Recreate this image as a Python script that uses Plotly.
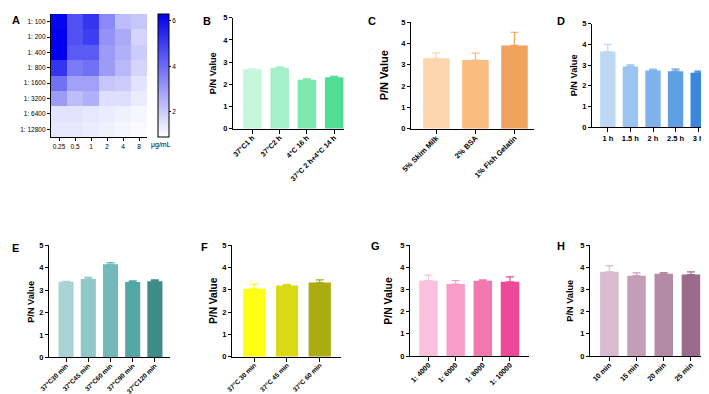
import plotly.graph_objects as go

W, H = 709, 394
FONT = "Liberation Sans, Arial, sans-serif"

# ---------------- data ----------------
heat_x = ["0.25", "0.5", "1", "2", "4", "8"]
heat_y = ["1: 100", "1: 200", "1: 400", "1: 800", "1: 1600", "1: 3200", "1: 6400", "1: 12800"]
heat_z = [
    [6.2, 4.6, 5.2, 3.4, 2.3, 2.1],
    [6.3, 4.6, 5.0, 3.2, 2.7, 1.8],
    [6.3, 4.4, 4.4, 3.0, 2.6, 2.0],
    [5.2, 3.7, 3.9, 3.0, 2.4, 1.8],
    [3.9, 2.9, 2.9, 2.1, 2.0, 1.5],
    [3.0, 2.3, 2.6, 1.6, 1.6, 1.3],
    [1.5, 1.5, 1.4, 1.3, 1.2, 1.1],
    [1.4, 1.4, 1.3, 1.2, 1.1, 1.0],
]

b_cats = ["37°C1 h", "37°C2 h", "4°C 16 h", "37°C 2 h+4°C 14 h"]
b_vals = [2.68, 2.75, 2.20, 2.32]
b_err = [0.02, 0.04, 0.04, 0.04]

c_cats = ["5% Skim Milk", "2% BSA", "1% Fish Gelatin"]
c_vals = [3.30, 3.22, 3.90]
c_err = [0.25, 0.32, 0.62]

d_cats = ["1 h", "1.5 h", "2 h", "2.5 h", "3 h"]
d_vals = [3.65, 2.93, 2.73, 2.70, 2.62]
d_err = [0.35, 0.08, 0.07, 0.10, 0.08]

e_cats = ["37°C30 min", "37°C45 min", "37°C60 min", "37°C90 min", "37°C120 min"]
e_vals = [3.37, 3.50, 4.15, 3.36, 3.40]
e_err = [0.02, 0.07, 0.08, 0.05, 0.06]

f_cats = ["37°C 30 min", "37°C 45 min", "37°C 60 min"]
f_vals = [3.05, 3.20, 3.33]
f_err = [0.20, 0.04, 0.12]

g_cats = ["1: 4000", "1: 6000", "1: 8000", "1: 10000"]
g_vals = [3.40, 3.25, 3.40, 3.35]
g_err = [0.25, 0.15, 0.04, 0.22]

h_cats = ["10 min", "15 min", "20 min", "25 min"]
h_vals = [3.80, 3.63, 3.72, 3.68]
h_err = [0.28, 0.12, 0.05, 0.12]

# ---------------- styles ----------------
b_cols = ["#C6F6DC", "#A6F0C9", "#7DE8B0", "#52DD96"]
c_cols = ["#FDD5AE", "#F9BC81", "#F0A35C"]
d_cols = ["#BDD7F4", "#9CC4F0", "#7EB2EB", "#5F9FE5", "#3A88DE"]
e_cols = ["#A9D4D4", "#90C7C7", "#74B9B9", "#55A7A6", "#3F8B88"]
f_cols = ["#FFFF14", "#D9D916", "#ABAB12"]
g_cols = ["#FAC0DC", "#F59FC8", "#F177AF", "#EE4999"]
h_cols = ["#D9BBD0", "#C59DB6", "#B28AA5", "#9C6B8C"]


def px_x(p):
    return p / W


def px_y(p):
    return 1 - p / H


fig = go.Figure()

# ---------------- heatmap A ----------------
fig.add_trace(go.Heatmap(
    x=heat_x, y=heat_y, z=heat_z, xaxis="x", yaxis="y",
    colorscale=[[0, "#FFFFFF"], [1, "#0000EE"]], zmin=0.9, zmax=6.3,
    xgap=0, ygap=0,
    colorbar=dict(
        x=px_x(150), xanchor="left", xpad=0, ypad=0,
        y=px_y(6), yanchor="top", len=(129 - 6) / H, lenmode="fraction",
        thickness=11, thicknessmode="pixels",
        outlinewidth=1, outlinecolor="black",
        tickvals=[2, 4, 6], ticks="outside", ticklen=2, tickcolor="black",
        tickfont=dict(size=6.5, family=FONT, color="black"),
    ),
))


def axis_common(size, bold=True):
    return dict(showline=True, linecolor="black", linewidth=1.3, ticks="outside",
                tickcolor="black", tickwidth=1.2, showgrid=False, zeroline=False,
                ticklabeloverflow="allow",
                tickfont=dict(size=size, family=FONT, color="black",
                              weight="bold" if bold else "normal"))


layout = dict(
    width=W, height=H, margin=dict(l=0, r=0, t=0, b=0, autoexpand=False),
    paper_bgcolor="white", plot_bgcolor="white", showlegend=False,
    barmode="overlay", font=dict(family=FONT, color="black"),
    xaxis=dict(domain=[px_x(43), px_x(139)], anchor="y", ticklen=3, **axis_common(6.5, False)),
    yaxis=dict(domain=[px_y(129), px_y(6)], anchor="x", autorange="reversed", ticklen=3,
               **axis_common(6.5, False)),
)

annotations = [
    dict(text="μg/mL", x=px_x(141), y=px_y(137), xref="paper", yref="paper",
         xanchor="left", yanchor="middle", showarrow=False,
         font=dict(size=7, family=FONT, color="black")),
]

# panel letters
letters = [("A", 2, 12), ("B", 193, 13), ("C", 358, 13), ("D", 547, 13),
           ("E", 2, 240), ("F", 191, 239), ("G", 361, 238), ("H", 547, 238)]
for t, lx, ly in letters:
    annotations.append(dict(text="<b>%s</b>" % t, x=px_x(lx), y=px_y(ly), xref="paper",
                            yref="paper", xanchor="left", yanchor="middle", showarrow=False,
                            font=dict(size=11, family=FONT, color="black")))

# bar panels: (cats, vals, errs, colors, x0px, x1px, y0px(value 0), y5px, xrange, tickangle, title_x, title_size, xfont)
panels = [
    (b_cats, b_vals, b_err, b_cols, 225, 336, 120.7, 9.7, [-0.71, 3.36], -45, 205, 9.2, 7.2),
    (c_cats, c_vals, c_err, c_cols, 403, 526, 120.7, 14, [-0.65, 2.5], -45, 376, 11, 7.5),
    (d_cats, d_vals, d_err, d_cols, 584, 706, 119, 15.7, [-0.7, 4.7], 0, 566, 9.2, 7.5),
    (e_cats, e_vals, e_err, e_cols, 41, 162, 349.3, 237.3, [-0.77, 4.68], -45, 23.5, 9.2, 6.6),
    (f_cats, f_vals, f_err, f_cols, 224, 333, 348.7, 237.3, [-0.68, 2.65], -45, 205, 10.2, 6.6),
    (g_cats, g_vals, g_err, g_cols, 402, 521, 348, 237.3, [-0.68, 3.7], -45, 381, 10.4, 7.2),
    (h_cats, h_vals, h_err, h_cols, 582, 702, 348, 237.3, [-0.71, 3.7], -45, 562, 9.2, 7.2),
]

for i, (cats, vals, errs, cols, x0, x1, y0, y5, xr, ang, tx, tsize, xf) in enumerate(panels):
    n = i + 2
    xa, ya = "x%d" % n, "y%d" % n
    for c, v, e, col in zip(cats, vals, errs, cols):
        fig.add_trace(go.Bar(
            x=[c], y=[v], xaxis=xa, yaxis=ya, width=0.68,
            marker=dict(color=col, line=dict(width=0)),
            error_y=dict(type="data", array=[e], arrayminus=[0], symmetric=False,
                         color=col, thickness=1.2, width=4),
        ))
    layout["xaxis%d" % n] = dict(domain=[px_x(x0), px_x(x1)], anchor=ya, type="category",
                                 categoryorder="array", categoryarray=cats,
                                 range=xr, tickangle=ang, ticklen=4,
                                 ticklabelstandoff=(-3 if ang else 0), **axis_common(xf))
    layout["yaxis%d" % n] = dict(domain=[px_y(y0), px_y(y5)], anchor=xa, range=[0, 5],
                                 tickvals=[0, 1, 2, 3, 4, 5], ticklen=3, **axis_common(7.5))
    annotations.append(dict(text="<b>P/N Value</b>", x=px_x(tx), y=px_y((y0 + y5) / 2),
                            xref="paper", yref="paper", textangle=-90, showarrow=False,
                            xanchor="center", yanchor="middle",
                            font=dict(size=tsize, family=FONT, color="black")))

layout["annotations"] = annotations
fig.update_layout(**layout)
fig.write_html("out.html")
